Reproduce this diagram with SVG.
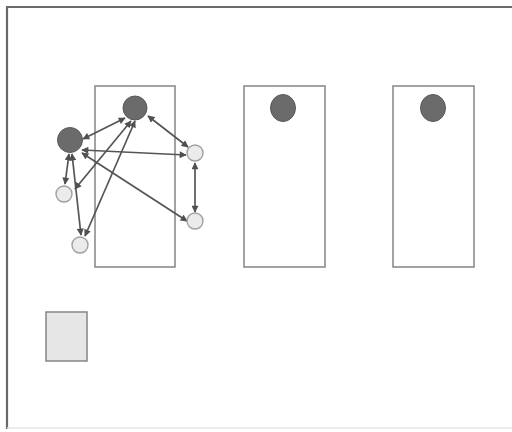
<svg xmlns="http://www.w3.org/2000/svg" width="512" height="432" viewBox="0 0 512 432">
<style>
.frame{fill:none;stroke:#6a6a6a;stroke-width:2.2}
.box{fill:#fff;stroke:#858585;stroke-width:1.5}
.dark{fill:#6b6b6b;stroke:#595959;stroke-width:1}
.light{fill:#ebebeb;stroke:#a0a0a0;stroke-width:1.4}
.edge{stroke:#555;stroke-width:1.7;fill:none;marker-start:url(#ah);marker-end:url(#ah)}
</style>
<defs>
<marker id="ah" viewBox="0 0 10 10" refX="9" refY="5" markerWidth="8" markerHeight="7" markerUnits="userSpaceOnUse" orient="auto-start-reverse">
<path d="M0,0 L10,5 L0,10 Z" fill="#505050"/>
</marker>
</defs>
<rect width="512" height="432" fill="#fff"/>
<path class="frame" d="M512,7 H7 V429"/>
<line x1="7" y1="428" x2="512" y2="428" stroke="#e6e6e6" stroke-width="1.5"/>
<g id="box1"><rect class="box" x="95" y="86" width="80" height="181"/></g>
<g id="box2"><rect class="box" x="244" y="86" width="81" height="181"/><ellipse class="dark" cx="283" cy="108" rx="12.5" ry="13.5"/></g>
<g id="box3"><rect class="box" x="393" y="86" width="81" height="181"/><ellipse class="dark" cx="433" cy="108" rx="12.5" ry="13.5"/></g>
<g id="legend"><rect x="46" y="312" width="41" height="49" fill="#e6e6e6" stroke="#858585" stroke-width="1.5"/></g>
<g id="connectors">
<line class="edge" x1="125" y1="118" x2="83" y2="139"/>
<line class="edge" x1="148" y1="116" x2="188" y2="147"/>
<line class="edge" x1="82" y1="150" x2="186" y2="155"/>
<line class="edge" x1="82" y1="153" x2="187" y2="221"/>
<line class="edge" x1="195" y1="163" x2="195" y2="212"/>
<line class="edge" x1="69" y1="154" x2="65" y2="184"/>
<line class="edge" x1="72" y1="154" x2="81" y2="235"/>
<line class="edge" x1="75" y1="189" x2="131" y2="121"/>
<line class="edge" x1="85" y1="236" x2="135" y2="121"/>
</g>
<g id="nodeA"><circle class="dark" cx="135" cy="108" r="12"/></g>
<g id="nodeB"><circle class="dark" cx="70" cy="140" r="12.5"/></g>
<g id="nodeC"><circle class="light" cx="64" cy="194" r="8"/></g>
<g id="nodeD"><circle class="light" cx="80" cy="245" r="8"/></g>
<g id="nodeE"><circle class="light" cx="195" cy="153" r="8"/></g>
<g id="nodeF"><circle class="light" cx="195" cy="221" r="8"/></g>
</svg>
